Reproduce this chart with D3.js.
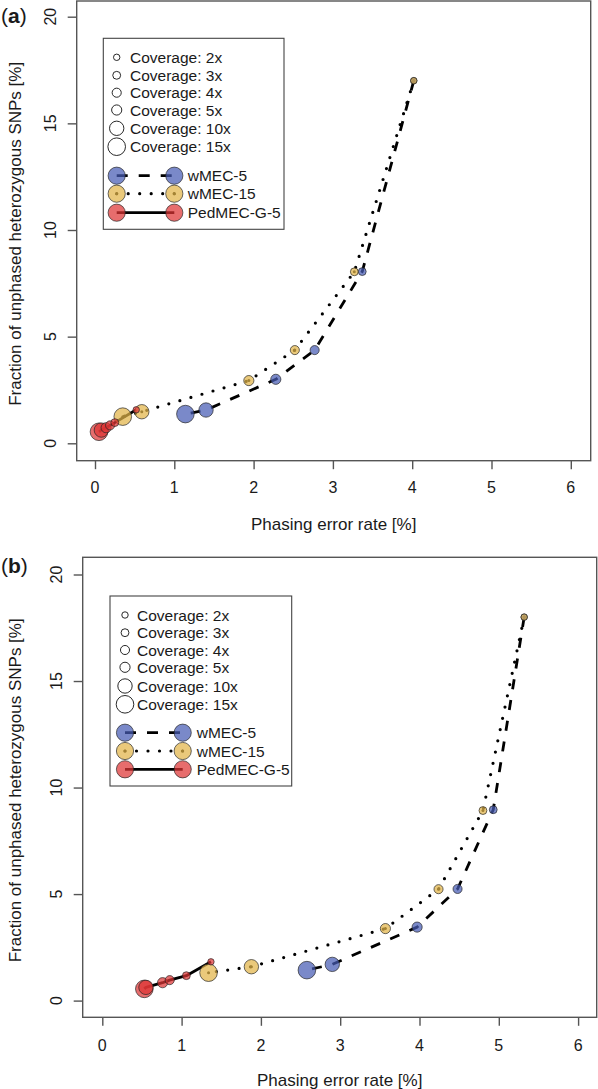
<!DOCTYPE html>
<html>
<head>
<meta charset="utf-8">
<script src="https://cdn.jsdelivr.net/npm/d3@7"></script>
<style>
  body { margin: 0; background: #fff; }
  svg { display: block; font-family: "Liberation Sans", Arial, Helvetica, sans-serif; }
</style>
</head>
<body>
<svg id="chart" width="598" height="1089"></svg>
<script>
// ---------- data ----------
const coverages = [2, 3, 4, 5, 10, 15];
const coverageLabels = ["Coverage: 2x", "Coverage: 3x", "Coverage: 4x", "Coverage: 5x", "Coverage: 10x", "Coverage: 15x"];
const methodNames = ["wMEC-5", "wMEC-15", "PedMEC-G-5"];
const xTicks = [0, 1, 2, 3, 4, 5, 6];
const yTicks = [0, 5, 10, 15, 20];
const xTitle = "Phasing error rate [%]";
const yTitle = "Fraction of unphased heterozygous SNPs [%]";
const panelLabels = ["a", "b"];

// panel (a), values in coverage order 2x,3x,4x,5x,10x,15x
const aWmec5X  = [4.02, 3.37, 2.77, 2.28, 1.40, 1.14];
const aWmec5Y  = [17.0, 8.05, 4.37, 3.00, 1.56, 1.37];
const aWmec15X = [4.02, 3.27, 2.52, 1.94, 0.59, 0.35];
const aWmec15Y = [17.0, 8.04, 4.37, 2.94, 1.48, 1.25];
const aPedX    = [0.52, 0.25, 0.19, 0.14, 0.08, 0.05];
const aPedY    = [1.57, 0.97, 0.84, 0.73, 0.62, 0.54];

// panel (b)
const bWmec5X  = [5.32, 4.93, 4.48, 3.97, 2.90, 2.58];
const bWmec5Y  = [18.0, 8.96, 5.24, 3.45, 1.70, 1.43];
const bWmec15X = [5.32, 4.80, 4.24, 3.57, 1.88, 1.34];
const bWmec15Y = [18.0, 8.92, 5.23, 3.38, 1.59, 1.31];
const bPedX    = [1.37, 1.06, 0.85, 0.76, 0.55, 0.53];
const bPedY    = [1.82, 1.17, 0.96, 0.84, 0.62, 0.55];

// ---------- styles / layout ----------
const methodStyle = [
  { fill: "rgb(70,92,180)",  dash: "10,11", cap: "butt" },
  { fill: "rgb(226,180,72)", dash: "0,11.5", cap: "round" },
  { fill: "rgb(222,52,52)",  dash: null,    cap: "butt" }
];
const fillOpacity = 0.72;
const rScale = d3.scaleSqrt().domain([0, 15]).range([0, 8.8]);
const fs = { tick: 16, title: 17, legend: 15.5, label: 21 };

const panels = [
  { label: panelLabels[0], box: [76.7, 1, 590.7, 460.7], xr: [95, 570.8], yr: [443.3, 16.7],
    ytickX: 50, xtickY: 493, xtitleY: 530, ytitleX: 15, labelY: 23,
    legend: [103.3, 38.3, 284, 229.3], legTextX: 130, legCircX: 116.7, legLineX2: 174.3, legText2X: 187.7,
    legRows: [57.3, 75.3, 92.7, 110, 128.3, 146.7], legMRows: [175.7, 193.7, 212.7],
    series: [[aWmec5X, aWmec5Y], [aWmec15X, aWmec15Y], [aPedX, aPedY]] },
  { label: panelLabels[1], box: [82.7, 557.3, 596.7, 1017.3], xr: [102.3, 578.1], yr: [1000.6, 574.5],
    ytickX: 56, xtickY: 1051, xtitleY: 1086, ytitleX: 15, labelY: 573,
    legend: [110, 596, 291.7, 786], legTextX: 137, legCircX: 125, legLineX2: 182.7, legText2X: 196.7,
    legRows: [615, 632.7, 650, 667.3, 686, 704.3], legMRows: [732.7, 751, 769.3],
    series: [[bWmec5X, bWmec5Y], [bWmec15X, bWmec15Y], [bPedX, bPedY]] }
];

const svg = d3.select("#chart");
const textColor = "#1a1a1a";
const axisColor = "#555";

panels.forEach(p => {
  const g = svg.append("g");
  const x = d3.scaleLinear().domain([0, 6]).range(p.xr);
  const y = d3.scaleLinear().domain([0, 20]).range(p.yr);
  const [bx0, by0, bx1, by1] = p.box;

  // box
  g.append("rect").attr("x", bx0).attr("y", by0).attr("width", bx1 - bx0).attr("height", by1 - by0)
    .attr("fill", "none").attr("stroke", axisColor).attr("stroke-width", 1.4);

  // x axis
  const xAxis = d3.axisBottom(x).tickValues(xTicks).tickSize(8.5).tickFormat(d3.format("d"));
  const gx = g.append("g").attr("transform", `translate(0,${by1})`).call(xAxis);
  gx.select(".domain").remove();
  gx.selectAll(".tick line").attr("stroke", axisColor).attr("stroke-width", 1.4);
  gx.selectAll(".tick text").remove();
  g.selectAll(".xlab").data(xTicks).join("text")
    .attr("x", d => x(d)).attr("y", p.xtickY).attr("text-anchor", "middle")
    .attr("font-size", fs.tick).attr("fill", textColor).text(d => d);

  // y axis
  const yAxis = d3.axisLeft(y).tickValues(yTicks).tickSize(9);
  const gy = g.append("g").attr("transform", `translate(${bx0},0)`).call(yAxis);
  gy.select(".domain").remove();
  gy.selectAll(".tick line").attr("stroke", axisColor).attr("stroke-width", 1.4);
  gy.selectAll(".tick text").remove();
  g.selectAll(".ylab").data(yTicks).join("text")
    .attr("transform", d => `translate(${p.ytickX},${y(d)}) rotate(-90)`)
    .attr("text-anchor", "middle").attr("dominant-baseline", "central")
    .attr("font-size", fs.tick).attr("fill", textColor).text(d => d);

  // titles
  g.append("text").attr("x", (bx0 + bx1) / 2).attr("y", p.xtitleY).attr("text-anchor", "middle")
    .attr("font-size", fs.title).attr("fill", textColor).text(xTitle);
  g.append("text").attr("transform", `translate(${p.ytitleX},${(by0 + by1) / 2 + 3}) rotate(-90)`)
    .attr("text-anchor", "middle").attr("dominant-baseline", "central")
    .attr("font-size", fs.title).attr("fill", textColor).text(yTitle);
  const lab = g.append("text").attr("x", 1).attr("y", p.labelY).attr("font-size", fs.label).attr("fill", textColor);
  lab.append("tspan").text("(");
  lab.append("tspan").attr("font-weight", "bold").text(p.label);
  lab.append("tspan").text(")");

  // lines
  const line = d3.line().x(d => x(d[0])).y(d => y(d[1]));
  p.series.forEach((s, i) => {
    const pts = s[0].map((v, k) => [v, s[1][k]]);
    const st = methodStyle[i];
    const path = g.append("path").datum(pts).attr("d", line).attr("fill", "none")
      .attr("stroke", "#000").attr("stroke-width", i === 1 ? 3.2 : 2.8)
      .attr("stroke-linecap", st.cap).attr("stroke-linejoin", "round");
    if (st.dash) path.attr("stroke-dasharray", st.dash);
    if (i === 1) {
      g.selectAll(null).data(pts).join("circle")
        .attr("cx", d => x(d[0])).attr("cy", d => y(d[1])).attr("r", 1.5).attr("fill", "#000");
    }
  });

  // points
  p.series.forEach((s, i) => {
    const pts = s[0].map((v, k) => ({ x: v, y: s[1][k], c: coverages[k] }));
    g.selectAll(null).data(pts.slice().reverse()).join("circle")
      .attr("cx", d => x(d.x)).attr("cy", d => y(d.y)).attr("r", d => rScale(d.c))
      .attr("fill", methodStyle[i].fill).attr("fill-opacity", fillOpacity)
      .attr("stroke", "#222").attr("stroke-opacity", 0.85).attr("stroke-width", 0.8);
  });

  // legend
  const [lx0, ly0, lx1, ly1] = p.legend;
  const lg = g.append("g");
  lg.append("rect").attr("x", lx0).attr("y", ly0).attr("width", lx1 - lx0).attr("height", ly1 - ly0)
    .attr("fill", "#fff").attr("stroke", "#444").attr("stroke-width", 1.1);
  coverages.forEach((c, k) => {
    lg.append("circle").attr("cx", p.legCircX).attr("cy", p.legRows[k]).attr("r", rScale(c))
      .attr("fill", "none").attr("stroke", "#111").attr("stroke-width", 0.9);
    lg.append("text").attr("x", p.legTextX).attr("y", p.legRows[k]).attr("dominant-baseline", "central")
      .attr("font-size", fs.legend).attr("fill", textColor).text(coverageLabels[k]);
  });
  methodNames.forEach((m, i) => {
    const yy = p.legMRows[i];
    const st = methodStyle[i];
    const ln = lg.append("line").attr("x1", p.legCircX).attr("x2", p.legLineX2).attr("y1", yy).attr("y2", yy)
      .attr("stroke", "#000").attr("stroke-width", i === 1 ? 3.2 : 2.8).attr("stroke-linecap", st.cap);
    if (st.dash) ln.attr("stroke-dasharray", i === 0 ? "11,11" : "0,11.5");
    [p.legCircX, p.legLineX2].forEach(cx => {
      if (i === 1) lg.append("circle").attr("cx", cx).attr("cy", yy).attr("r", 1.5).attr("fill", "#000");
      lg.append("circle").attr("cx", cx).attr("cy", yy).attr("r", 8.6)
        .attr("fill", st.fill).attr("fill-opacity", fillOpacity)
        .attr("stroke", "#222").attr("stroke-opacity", 0.85).attr("stroke-width", 0.8);
    });
    lg.append("text").attr("x", p.legText2X).attr("y", yy).attr("dominant-baseline", "central")
      .attr("font-size", fs.legend).attr("fill", textColor).text(m);
  });
});
</script>
</body>
</html>
